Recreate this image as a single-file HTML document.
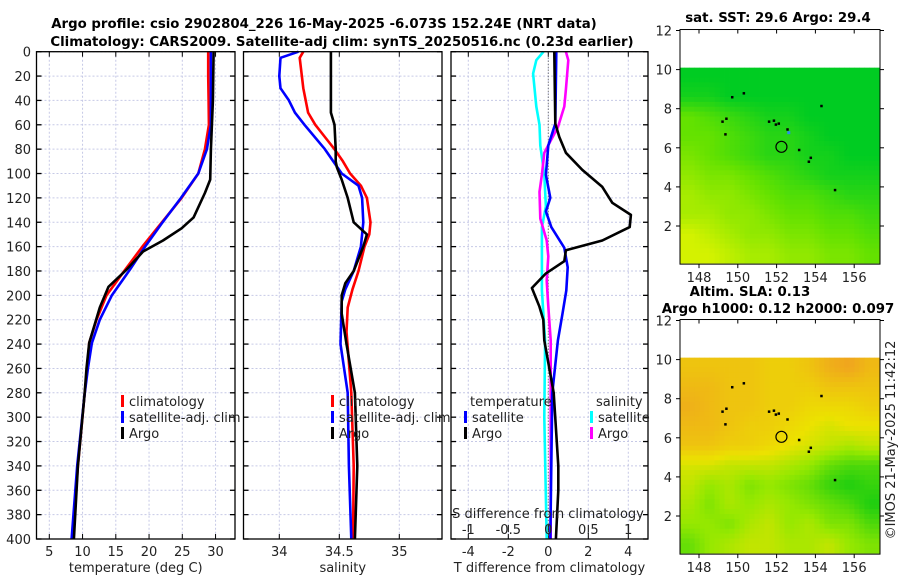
<!DOCTYPE html>
<html><head><meta charset="utf-8"><style>
html,body{margin:0;padding:0;background:#fff;}
svg{display:block;font-family:"DejaVu Sans","Liberation Sans",sans-serif;}
</style></head><body>
<svg id="fig" width="900" height="580" viewBox="0 0 900 580" xmlns="http://www.w3.org/2000/svg">
<text x="324" y="28" text-anchor="middle" font-size="13.3" font-weight="bold">Argo profile: csio 2902804_226 16-May-2025 -6.073S 152.24E (NRT data)</text>
<text x="342" y="46" text-anchor="middle" font-size="13.3" font-weight="bold">Climatology: CARS2009. Satellite-adj clim: synTS_20250516.nc (0.23d earlier)</text>
<text x="778" y="22" text-anchor="middle" font-size="13.3" font-weight="bold">sat. SST: 29.6 Argo: 29.4</text>
<text x="750" y="296" text-anchor="middle" font-size="13.3" font-weight="bold">Altim. SLA: 0.13</text>
<text x="778" y="313" text-anchor="middle" font-size="13.3" font-weight="bold">Argo h1000: 0.12 h2000: 0.097</text>
<text transform="translate(895,440) rotate(-90)" text-anchor="middle" font-size="13" fill="#222">©IMOS 21-May-2025 11:42:12</text>
</svg>
<script>
// ---- profile data ----
const tClimDepth=[0,20,40,60,80,100,120,141,160,179,200,220,239,260,282,340,400];
const tClimVal=[28.9,28.9,28.95,29.0,28.4,27.4,24.9,21.8,19.0,16.4,13.6,12.1,11.0,10.7,10.3,9.3,8.5];
const tSatDepth=[0,20,40,60,80,100,120,141,160,179,200,220,239,260,282,340,400];
const tSatVal=[29.3,29.3,29.3,29.3,28.7,27.4,24.8,21.9,19.4,17.1,14.4,12.6,11.4,10.8,10.3,9.2,8.35];
const tArgoDepth=[0,40,80,105,116,136,145,155,164,179,193,210,239,260,282,340,400];
const tArgoVal=[29.7,29.6,29.3,29.2,28.4,26.7,24.9,22.1,19.1,16.6,13.9,12.6,11.0,10.6,10.3,9.3,8.7];
const sClimDepth=[0,5,30,50,60,70,80,90,100,110,120,140,150,160,180,195,210,230,280,340,400];
const sClimVal=[34.2,34.17,34.2,34.24,34.3,34.38,34.46,34.53,34.59,34.68,34.73,34.76,34.75,34.71,34.66,34.61,34.57,34.56,34.6,34.62,34.615];
const sSatDepth=[0,5,20,30,40,50,60,80,100,110,120,140,160,180,195,205,240,280,340,400];
const sSatVal=[34.16,34.01,34.0,34.01,34.08,34.13,34.21,34.38,34.52,34.66,34.69,34.70,34.68,34.62,34.55,34.52,34.51,34.57,34.58,34.60];
const sArgoDepth=[0,50,60,80,90,95,105,120,140,150,160,180,190,200,215,240,280,340,400];
const sArgoVal=[34.43,34.43,34.46,34.47,34.47,34.48,34.52,34.57,34.62,34.73,34.70,34.62,34.55,34.52,34.52,34.56,34.63,34.65,34.63];
const dTArgoDepth=[0,59,70,83,97,111,124,134,144,155,163,172,182,194,209,220,237,280,340,360,400];
const dTArgoVal=[0.3,0.35,0.55,0.88,1.7,2.7,3.2,4.13,4.07,2.7,0.88,0.8,-0.12,-0.82,-0.45,-0.25,-0.2,0.27,0.5,0.5,0.38];
const dTSatDepth=[0,59,77,101,120,131,144,161,177,196,216,237,280,340,400];
const dTSatVal=[0.4,0.35,0.0,-0.12,0.1,-0.12,0.15,0.8,0.97,0.9,0.7,0.48,0.2,0.15,0.1];
const dSSatDepth=[0,7,18,45,60,77,101,127,144,166,196,237,300,400];
const dSSatVal=[-0.06,-0.15,-0.19,-0.15,-0.11,-0.1,-0.05,-0.03,-0.08,-0.08,-0.08,-0.04,-0.05,-0.02];
const dSArgoDepth=[0,7,31,45,62,73,83,101,115,137,155,168,188,209,237,300,400];
const dSArgoVal=[0.22,0.25,0.22,0.2,0.12,0.03,-0.05,-0.08,-0.11,-0.1,-0.02,0,-0.02,0,0.03,0.03,0.03];
const tTicks=[5,10,15,20,25,30];
const sTicks=[34,34.5,35];
const dTTicks=[-4,-2,0,2,4];
const dSTicks=[-1,-0.5,0,0.5,1];
const dSTickLabels=["-1","-0.5","0","0.5","1"];
// ---- map data (rows lat 10..0 top to bottom, cols lon 147..157) ----
const sstGrid=[
[30.0,30.0,30.0,30.0,30.0,30.0,30.0,30.0,30.0,30.0],
[29.9,29.9,30.0,30.0,30.0,30.0,30.0,30.0,30.0,30.0],
[29.5,29.6,29.7,29.8,29.9,29.9,30.0,30.0,30.0,30.0],
[29.5,29.5,29.6,29.7,29.8,29.8,29.9,30.0,30.0,30.0],
[29.4,29.5,29.6,29.7,29.8,29.8,29.9,29.9,30.0,30.0],
[29.3,29.4,29.4,29.5,29.6,29.7,29.8,29.9,29.9,29.9],
[29.2,29.3,29.3,29.4,29.5,29.6,29.6,29.7,29.8,29.8],
[29.2,29.2,29.3,29.3,29.4,29.5,29.5,29.6,29.6,29.7],
[29.0,29.1,29.2,29.3,29.3,29.4,29.4,29.5,29.5,29.6],
[29.0,29.0,29.1,29.2,29.2,29.3,29.3,29.4,29.4,29.5]];
const slaGrid=[
[0.15,0.15,0.15,0.15,0.14,0.14,0.15,0.17,0.18,0.16],
[0.16,0.16,0.15,0.15,0.14,0.14,0.14,0.15,0.15,0.15],
[0.17,0.16,0.15,0.15,0.14,0.14,0.13,0.13,0.13,0.14],
[0.16,0.16,0.15,0.14,0.14,0.13,0.12,0.11,0.12,0.12],
[0.15,0.15,0.14,0.14,0.13,0.12,0.11,0.10,0.09,0.10],
[0.11,0.11,0.10,0.10,0.10,0.09,0.08,0.06,0.05,0.05],
[0.10,0.08,0.09,0.07,0.08,0.07,0.06,0.04,0.03,0.04],
[0.09,0.07,0.09,0.08,0.09,0.08,0.07,0.06,0.05,0.03],
[0.08,0.08,0.07,0.09,0.10,0.08,0.09,0.07,0.07,0.05],
[0.06,0.08,0.09,0.10,0.10,0.09,0.09,0.10,0.08,0.07]];
const dotLon=[149.7,150.3,149.2,149.4,149.35,151.6,151.85,151.95,152.1,152.55,153.15,153.75,153.65,154.3,155.0];
const dotLat=[8.6,8.8,7.35,7.5,6.7,7.35,7.4,7.2,7.25,6.95,5.9,5.5,5.3,8.15,3.85];
const floatLon=152.25, floatLat=6.05;

const NS='http://www.w3.org/2000/svg';
const svg=document.getElementById('fig');
function el(tag,attrs,parent){const e=document.createElementNS(NS,tag);for(const k in attrs)e.setAttribute(k,attrs[k]);(parent||svg).appendChild(e);return e;}
function txt(s,attrs,parent){const e=el('text',attrs,parent);e.textContent=s;return e;}

const yTop=51.7, yBot=539;
const yD=d=>yTop+d*(yBot-yTop)/400;
const panels=[
 {name:'temperature',x0:36.5,x1:235,xs:v=>49.3+(v-5)*6.65,ticks:tTicks,label:'temperature (deg C)'},
 {name:'salinity',x0:243.5,x1:442,xs:v=>279.3+(v-34)*120,ticks:sTicks,label:'salinity'},
 {name:'difference',x0:451,x1:648,xs:v=>548.3+v*20,ticks:dTTicks,label:'T difference from climatology'}];
const depthTicks=[];for(let d=0;d<=400;d+=20)depthTicks.push(d);

panels.forEach((p,pi)=>{
 const g=el('g',{});
 
 
 el('rect',{x:p.x0,y:yTop,width:p.x1-p.x0,height:yBot-yTop,fill:'#fff'},g);
 depthTicks.forEach(d=>{
  const l=el('line',{x1:p.x0,x2:p.x1,y1:yD(d),y2:yD(d),stroke:'#c6c9e6','stroke-width':1,'stroke-dasharray':'2,2'},g);
  
  
  el('line',{x1:p.x0,x2:p.x0+5,y1:yD(d),y2:yD(d),stroke:'#000','stroke-width':1.3},g);
  el('line',{x1:p.x1-5,x2:p.x1,y1:yD(d),y2:yD(d),stroke:'#000','stroke-width':1.3},g);
 });
 p.ticks.forEach(t=>{
  const x=p.xs(t);
  const l=el('line',{x1:x,x2:x,y1:yTop,y2:yBot,stroke:'#c6c9e6','stroke-width':1,'stroke-dasharray':'2,2'},g);
  
  
  el('line',{x1:x,x2:x,y1:yBot-5,y2:yBot,stroke:'#000','stroke-width':1},g);
  el('line',{x1:x,x2:x,y1:yTop,y2:yTop+5,stroke:'#000','stroke-width':1},g);
  const tl=txt(String(t),{x:x,y:556,'text-anchor':'middle','font-size':13,fill:'#222'},g);
  
  
 });
 const at=txt(p.label,{x:(p.x0+p.x1)/2,y:572,'text-anchor':'middle','font-size':13,fill:'#222'},g);
 
 
 p.g=g;
});
depthTicks.forEach(d=>{
 const t=txt(String(d),{x:31,y:yD(d)+5,'text-anchor':'end','font-size':13,fill:'#222'});
 
 
});
const z=el('line',{x1:panels[2].xs(0),x2:panels[2].xs(0),y1:yTop,y2:yBot,stroke:'#555','stroke-width':1,'stroke-dasharray':'1,2'},panels[2].g);



function profile(p,depths,vals,color,name){
 const pts=depths.map((d,i)=>p.xs(vals[i]).toFixed(1)+','+yD(d).toFixed(1)).join(' ');
 const l=el('polyline',{points:pts,fill:'none',stroke:color,'stroke-width':2.6,'stroke-linejoin':'round'},p.g);
 
 
}
const pS=panels[2];
const pSd={xs:v=>548.3+v*80,g:pS.g};
profile(pSd,dSSatDepth,dSSatVal,'#00ffff','s-diff-satellite-line');
profile(pSd,dSArgoDepth,dSArgoVal,'#ff00ff','s-diff-argo-line');
profile(pS,dTSatDepth,dTSatVal,'#0000ff','t-diff-satellite-line');
profile(pS,dTArgoDepth,dTArgoVal,'#000','t-diff-argo-line');
profile(panels[0],tClimDepth,tClimVal,'#ff0000','temp-climatology-line');
profile(panels[0],tSatDepth,tSatVal,'#0000ff','temp-satellite-line');
profile(panels[0],tArgoDepth,tArgoVal,'#000','temp-argo-line');
profile(panels[1],sClimDepth,sClimVal,'#ff0000','sal-climatology-line');
profile(panels[1],sSatDepth,sSatVal,'#0000ff','sal-satellite-line');
profile(panels[1],sArgoDepth,sArgoVal,'#000','sal-argo-line');

const sT=txt('S difference from climatology',{x:548,y:518,'text-anchor':'middle','font-size':13,fill:'#222'},pS.g);


dSTicks.forEach((t,i)=>{
 const x=pSd.xs(t);
 el('line',{x1:x,x2:x,y1:525,y2:532,stroke:'#000','stroke-width':1},pS.g);
 const tl=txt(dSTickLabels[i],{x:x,y:534,'text-anchor':'middle','font-size':13,fill:'#222'},pS.g);
 
 
});
panels.forEach(p=>{el('rect',{x:p.x0,y:yTop,width:p.x1-p.x0,height:yBot-yTop,fill:'none',stroke:'#000','stroke-width':1.3},p.g);});

function legend(g,x,y,color,label){
 const lg=el('g',{},g);
 
 
 el('rect',{x:x,y:y-11,width:3,height:12,fill:color},lg);
 txt(label,{x:x+8,y:y,'font-size':13,fill:'#222'},lg);
}
legend(panels[0].g,121,406,'#ff0000','climatology');
legend(panels[0].g,121,422,'#0000ff','satellite-adj. clim');
legend(panels[0].g,121,438,'#000','Argo');
legend(panels[1].g,331,406,'#ff0000','climatology');
legend(panels[1].g,331,422,'#0000ff','satellite-adj. clim');
legend(panels[1].g,331,438,'#000','Argo');
const lt=txt('temperature',{x:470,y:406,'font-size':13,fill:'#222'},pS.g);


const ls=txt('salinity',{x:596,y:406,'font-size':13,fill:'#222'},pS.g);


legend(pS.g,464,422,'#0000ff','satellite');
legend(pS.g,464,438,'#000','Argo');
legend(pS.g,590,422,'#00ffff','satellite');
legend(pS.g,590,438,'#ff00ff','Argo');

function lerp(a,b,t){return a+(b-a)*t;}
function rampRGB(stops,v){
 if(v<=stops[0][0])return 'rgb('+stops[0][1].join(',')+')';
 for(let i=1;i<stops.length;i++){if(v<=stops[i][0]){const t=(v-stops[i-1][0])/(stops[i][0]-stops[i-1][0]);const a=stops[i-1][1],b=stops[i][1];return 'rgb('+[0,1,2].map(k=>Math.round(lerp(a[k],b[k],t))).join(',')+')';}}
 return 'rgb('+stops[stops.length-1][1].join(',')+')';
}
const sstStops=[[29.0,[212,242,0]],[29.5,[100,226,0]],[30.0,[0,204,34]]];
const slaStops=[[0.03,[30,206,16]],[0.08,[150,232,0]],[0.12,[236,226,0]],[0.18,[240,165,30]]];
function drawMap(name,top,grid,stops){
 const g=el('g',{});
 
 
 const xL=680,xR=880;
 const lonX=lon=>699+(lon-148)*19.4;
 const latY=lat=>(top+195)-(lat-2)*19.55;
 const n=40, rows=grid.length, cols=grid[0].length;
 const x0=lonX(147), x1=lonX(157.3), y0=latY(10.1), y1=latY(0.1);
 const cw=(x1-x0)/n, ch=(y1-y0)/n;
 for(let i=0;i<n;i++)for(let j=0;j<n;j++){
  const fr=Math.min(rows-1.0001,Math.max(0,(i+0.5)/n*rows-0.5)), fc=Math.min(cols-1.0001,Math.max(0,(j+0.5)/n*cols-0.5));
  const r=Math.floor(fr), c=Math.floor(fc), tr=fr-r, tc=fc-c;
  const v=lerp(lerp(grid[r][c],grid[r][c+1],tc),lerp(grid[r+1][c],grid[r+1][c+1],tc),tr);
  const cell=el('rect',{x:(x0+j*cw).toFixed(2),y:(y0+i*ch).toFixed(2),width:(cw+0.4).toFixed(2),height:(ch+0.4).toFixed(2),fill:rampRGB(stops,v)},g);
  
  
 }
 dotLon.forEach((lon,i)=>{
  const d=el('rect',{x:lonX(lon)-1,y:latY(dotLat[i])-1,width:2.5,height:2.5,fill:'#000'},g);
  
  
 });
 const c=el('circle',{cx:lonX(floatLon),cy:latY(floatLat),r:5.5,fill:'none',stroke:'#000','stroke-width':1.2},g);
 
 
 const yb=latY(0.05);
 el('rect',{x:xL,y:latY(12.05),width:xR-xL,height:yb-latY(12.05),fill:'none',stroke:'#000','stroke-width':1},g);
 [148,150,152,154,156].forEach(lon=>{
  const x=lonX(lon);
  el('line',{x1:x,x2:x,y1:yb,y2:yb+4,stroke:'#000'},g);
  el('line',{x1:x,x2:x,y1:latY(12.05),y2:latY(12.05)+4,stroke:'#000'},g);
  const t=txt(String(lon),{x:x,y:yb+18,'text-anchor':'middle','font-size':13,fill:'#222'},g);
  
  
 });
 [2,4,6,8,10,12].forEach(lat=>{
  const y=latY(lat);
  el('line',{x1:xL-4,x2:xL,y1:y,y2:y,stroke:'#000'},g);
  el('line',{x1:xR,x2:xR+4,y1:y,y2:y,stroke:'#000'},g);
  const t=txt(String(lat),{x:xL-8,y:y+5,'text-anchor':'end','font-size':13,fill:'#222'},g);
  
  
 });
 return {g,lonX,latY};
}
const m1=drawMap('sst-map',31,sstGrid,sstStops);
const bp=el('rect',{x:m1.lonX(152.55),y:m1.latY(6.85),width:3,height:3,fill:'#2a8cf0'},m1.g);


drawMap('sla-map',321,slaGrid,slaStops);
</script>
</body></html>
